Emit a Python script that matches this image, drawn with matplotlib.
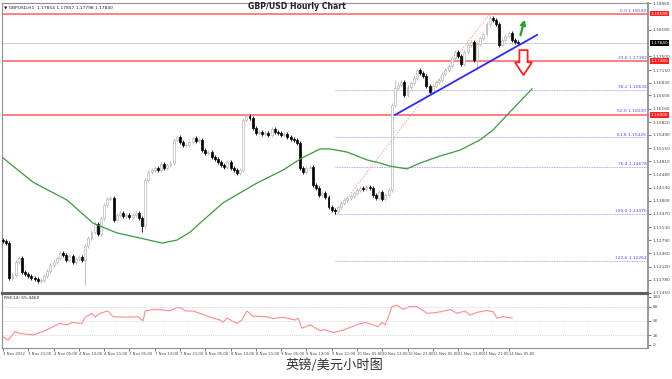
import numpy as np
import matplotlib
matplotlib.use("Agg")
import matplotlib.pyplot as plt
import matplotlib.transforms as mtransforms
from matplotlib.patches import Polygon

# hourly closes, 3 Nov 2022 13:00 -> 14 Nov 08:00
closes = [
    1.1277, 1.1272, 1.1183, 1.1190, 1.1224, 1.1234, 1.1198, 1.1193, 1.1188, 1.1183,
    1.1180, 1.1175, 1.1178, 1.1188, 1.1201, 1.1216, 1.1224, 1.1234, 1.1247, 1.1242,
    1.1229, 1.1239, 1.1224, 1.1231, 1.1236, 1.1229, 1.1265, 1.1285, 1.1300, 1.1321,
    1.1295, 1.1336, 1.1370, 1.1385, 1.1388, 1.1331, 1.1344, 1.1349, 1.1341, 1.1344,
    1.1339, 1.1344, 1.1349, 1.1336, 1.1316, 1.1434, 1.1454, 1.1459, 1.1464, 1.1459,
    1.1475, 1.1464, 1.1472, 1.1477, 1.1536, 1.1544, 1.1531, 1.1523, 1.1523, 1.1531,
    1.1541, 1.1533, 1.1536, 1.1510, 1.1503, 1.1505, 1.1493, 1.1487, 1.1480, 1.1472,
    1.1467, 1.1480, 1.1464, 1.1459, 1.1451, 1.1459, 1.1587, 1.1598, 1.1592, 1.1567,
    1.1554, 1.1557, 1.1551, 1.1554, 1.1549, 1.1564, 1.1557, 1.1554, 1.1549, 1.1551,
    1.1544, 1.1539, 1.1536, 1.1528, 1.1464, 1.1454, 1.1464, 1.1467, 1.1421, 1.1413,
    1.1395, 1.1400, 1.1390, 1.1365, 1.1357, 1.1354, 1.1365, 1.1375, 1.1382, 1.1388,
    1.1393, 1.1400, 1.1408, 1.1413, 1.1411, 1.1416, 1.1413, 1.1395, 1.1388, 1.1403,
    1.1385, 1.1395, 1.1408, 1.1626, 1.1669, 1.1677, 1.1685, 1.1651, 1.1672, 1.1682,
    1.1695, 1.1715, 1.1708, 1.1700, 1.1674, 1.1659, 1.1674, 1.1685, 1.1690, 1.1705,
    1.1715, 1.1725, 1.1746, 1.1761, 1.1751, 1.1731, 1.1761, 1.1779, 1.1787, 1.1741,
    1.1782, 1.1797, 1.1807, 1.1833, 1.1848, 1.1843, 1.1833, 1.1779, 1.1792, 1.1802,
    1.1810, 1.1792, 1.1787, 1.1784,
]
first_open = 1.1280
spike_high = {77: 1.1606, 124: 1.1690, 154: 1.1856}
spike_low = {26: 1.1165, 44: 1.1300, 105: 1.1347, 150: 1.1715}

# 100-period moving average (green)
ma_bars = [0, 9.5, 20.3, 28.5, 36.1, 43.4, 50.3, 55.1, 59.2, 62.3, 69.6, 80.4, 88.6, 94.6,
           100.3, 103.5, 108.9, 115.2, 119.3, 122.5, 127.8, 132, 138.3, 144.6, 150.9,
           155.1, 159.5, 167.4]
ma_vals = [1.1490, 1.1428, 1.1382, 1.1323, 1.1298, 1.1285, 1.1272, 1.1280, 1.1300, 1.1323,
           1.1375, 1.1426, 1.1459, 1.1490, 1.1513, 1.1513, 1.1505, 1.1485, 1.1477, 1.1469,
           1.1462, 1.1477, 1.1495, 1.1510, 1.1536, 1.1562, 1.1600, 1.1667]

# RSI(14)
rsi_bars = [0, 1.6, 3.8, 5.4, 9.5, 12.7, 15.8, 18, 20.3, 21.8, 25, 26, 28.2, 29.1, 30.7,
            33.2, 34.8, 39.2, 42.7, 44.3, 45, 47.5, 50.6, 52.8, 55, 56.6, 57.6, 60.1, 62.3,
            65.5, 68.7, 69.6, 70.9, 72.5, 74, 75.6, 77.2, 79.1, 83.5, 85.4, 88.6, 92.4,
            93.4, 94.6, 97.2, 100.3, 101.9, 104.4, 107.6, 112, 114.6, 117.1, 118.7, 119.9,
            120.9, 121.8, 123.1, 124.7, 126.6, 128.8, 131, 134.2, 136.1, 138.3, 141.5,
            143.7, 146.2, 147.8, 150, 153.2, 155.1, 156.3, 158.2, 161.1]
rsi_vals = [17, 10, 28, 24, 21, 28, 38, 45, 42, 47, 45, 58, 66, 58, 66,
            71, 59, 58, 59, 50, 71, 74, 73, 71, 78, 77, 71, 71, 66,
            58, 52, 47, 56, 50, 45, 52, 71, 60, 59, 55, 58, 52,
            56, 35, 42, 30, 32, 26, 31, 42, 47, 42, 38, 47,
            42, 56, 80, 83, 74, 80, 80, 66, 67, 69, 74,
            66, 71, 62, 68, 72, 69, 56, 59, 56]
rsi_levels = [80, 50, 20]

# fibonacci retracement of the 9 Nov low -> 11 Nov high
fib_high = 1.1859
fib_low = 1.1347
fib_start = 105
fib_end = 154
fib_ratios = [0.0, 23.6, 38.2, 50.0, 61.8, 76.4, 100.0, 123.6]
red_levels = [1.1859, 1.1738, 1.1600]
last_price = 1.1784

trend_bars = [124, 169]
trend_vals = [1.1600, 1.1805]

time_ticks = [0, 8, 16, 24, 32, 40, 48, 56, 64, 72, 80, 88, 96, 104, 112, 120, 128, 136,
              144, 152, 160]
time_labels = ["3 Nov 2022", "3 Nov 21:00", "4 Nov 05:00", "4 Nov 13:00", "4 Nov 21:00",
               "7 Nov 05:00", "7 Nov 13:00", "7 Nov 21:00", "8 Nov 05:00", "8 Nov 13:00",
               "8 Nov 21:00", "9 Nov 05:00", "9 Nov 13:00", "9 Nov 21:00", "10 Nov 05:00",
               "10 Nov 13:00", "10 Nov 21:00", "11 Nov 05:00", "11 Nov 13:00",
               "11 Nov 21:00", "14 Nov 05:00"]
# ticks sitting under the coloured price boxes are left out
price_ticks = [1.18860, 1.18180, 1.17500, 1.17150, 1.16830, 1.16500,
               1.16160, 1.15820, 1.15490, 1.15150, 1.14810, 1.14480, 1.14140, 1.13800,
               1.13470, 1.13130, 1.12790, 1.12460, 1.12120, 1.11780, 1.11450]

plt.rcParams['font.family'] = ['DejaVu Sans']
fig = plt.figure(figsize=(6.72, 3.79), dpi=100)
ax = fig.add_axes([2 / 672, 86 / 379, 646 / 672, 290 / 379])
ax_rsi = fig.add_axes([2 / 672, 31 / 379, 646 / 672, 54 / 379])

# candles
closes = np.array(closes)
opens = np.concatenate([[first_open], closes[:-1]])
bars = np.arange(len(closes))
for i in bars:
    o, c = opens[i], closes[i]
    hi = spike_high.get(i, max(o, c) + 0.0005)
    lo = spike_low.get(i, min(o, c) - 0.0005)
    up = c >= o
    col = "#b8b8b8" if up else "black"
    ax.vlines(i, lo, hi, color=col, lw=0.6, zorder=3)
    ax.bar(i, max(abs(c - o), 0.00012), bottom=min(o, c), width=0.62,
           facecolor="white" if up else "black", edgecolor=col, lw=0.5, zorder=4)

ax.plot(ma_bars, ma_vals, color="#3a9a3a", lw=0.9, zorder=5)

# fibonacci levels
fib_rng = fib_high - fib_low
for r in fib_ratios:
    lvl = fib_high - r / 100 * fib_rng
    ax.hlines(lvl, fib_start, 204, color="#8c8cff", lw=0.6, linestyles=(0, (1, 1)), zorder=2)
    ax.text(203.6, lvl + 0.0002, f"{r:.1f} {lvl:.5f}", fontsize=3.2, color="#4b4bff",
            ha="right", va="bottom", zorder=6)
ax.plot([fib_start, fib_end], [fib_low, fib_high], color="#ff9a9a", lw=0.7,
        ls=(0, (1.5, 1.5)), zorder=2)

for lvl in red_levels:
    ax.axhline(lvl, color="#ff8080", lw=1.4, zorder=2)
ax.axhline(last_price, color="#c8c8c8", lw=0.6, zorder=1)

ax.plot(trend_bars, trend_vals, color="#2a2aff", lw=1.3, zorder=6)

# green up arrow and red hollow down arrow
ax.annotate("", xy=(165.3, 1.1851), xytext=(163.5, 1.1797),
            arrowprops=dict(arrowstyle="->", color="#1ea51e", lw=1.6, mutation_scale=7),
            zorder=7)
ra_x, ra_top, ra_neck, ra_tip = 164.7, 1.1766, 1.1735, 1.1702
sw, hw = 1.3, 2.7
ax.add_patch(Polygon([(ra_x - sw, ra_top), (ra_x + sw, ra_top), (ra_x + sw, ra_neck),
                      (ra_x + hw, ra_neck), (ra_x, ra_tip), (ra_x - hw, ra_neck),
                      (ra_x - sw, ra_neck)], closed=True, facecolor="white",
                     edgecolor="#ff2020", lw=1.3, zorder=7))

ax.set_xlim(-0.32, 204.1)
ax.set_ylim(1.11443, 1.18867)
ax.yaxis.tick_right()
ax.set_yticks(price_ticks)
ax.set_yticklabels([f"{p:.5f}" for p in price_ticks])
ax.tick_params(axis="y", labelsize=3.1, length=2, pad=1.5, colors="#444444",
               width=0.5)
ax.set_xticks([])
for s in ax.spines.values():
    s.set_color("#909090")
    s.set_linewidth(0.8)
ax.spines["right"].set_linewidth(1.3)
ax.spines["bottom"].set_color("#606060")
ax.spines["bottom"].set_linewidth(1.5)

trans = mtransforms.blended_transform_factory(ax.transAxes, ax.transData)
for lvl in red_levels:
    ax.text(1.004, lvl, f"{lvl:.5f}", transform=trans, fontsize=3.1, color="white",
            va="center", ha="left", zorder=8,
            bbox=dict(boxstyle="square,pad=0.15", facecolor="#ff2020", edgecolor="none"))
ax.text(1.004, last_price, f"{last_price:.5f}", transform=trans, fontsize=3.1,
        color="white", va="center", ha="left", zorder=8,
        bbox=dict(boxstyle="square,pad=0.15", facecolor="black", edgecolor="none"))

ax.text(0.003, 0.992, "\u25bc GBPUSD,H1  1.17854 1.17857 1.17798 1.17840",
        transform=ax.transAxes, fontsize=3.2, va="top", ha="left", color="#222222")
fig.text(0.442, 0.982, "GBP/USD Hourly Chart", fontsize=5.6, fontweight="bold",
         ha="center", va="center", color="#222222")

# RSI panel
ax_rsi.plot(rsi_bars, rsi_vals, color="#ff8a8a", lw=0.8)
for lv in rsi_levels:
    ax_rsi.axhline(lv, color="#c8c8c8", lw=0.5, ls=(0, (1.5, 1.5)))
ax_rsi.set_xlim(-0.32, 204.1)
ax_rsi.set_ylim(-6.25, 106.25)
ax_rsi.yaxis.tick_right()
ax_rsi.set_yticks([100, 80, 50, 20, 0])
ax_rsi.tick_params(axis="y", labelsize=3.1, length=2, pad=1.5, colors="#444444",
                   width=0.5)
ax_rsi.set_xticks(time_ticks)
ax_rsi.set_xticklabels(time_labels, ha="left")
ax_rsi.tick_params(axis="x", labelsize=2.7, length=2, pad=1, colors="#444444", width=0.5)
for s in ax_rsi.spines.values():
    s.set_color("#909090")
    s.set_linewidth(0.8)
ax_rsi.spines["right"].set_linewidth(1.3)
ax_rsi.spines["top"].set_color("#606060")
ax_rsi.spines["top"].set_linewidth(1.5)
ax_rsi.text(0.003, 0.96, "RSI(14) 55.4460", transform=ax_rsi.transAxes, fontsize=3.2,
            va="top", ha="left", color="#222222")

fig.text(0.498, 0.037, "英镑/美元小时图", fontsize=9.5, ha="center", va="center",
         color="#333333", family=["Noto Sans CJK SC", "DejaVu Sans"])

fig.savefig("out.png", dpi=100, facecolor="white")
